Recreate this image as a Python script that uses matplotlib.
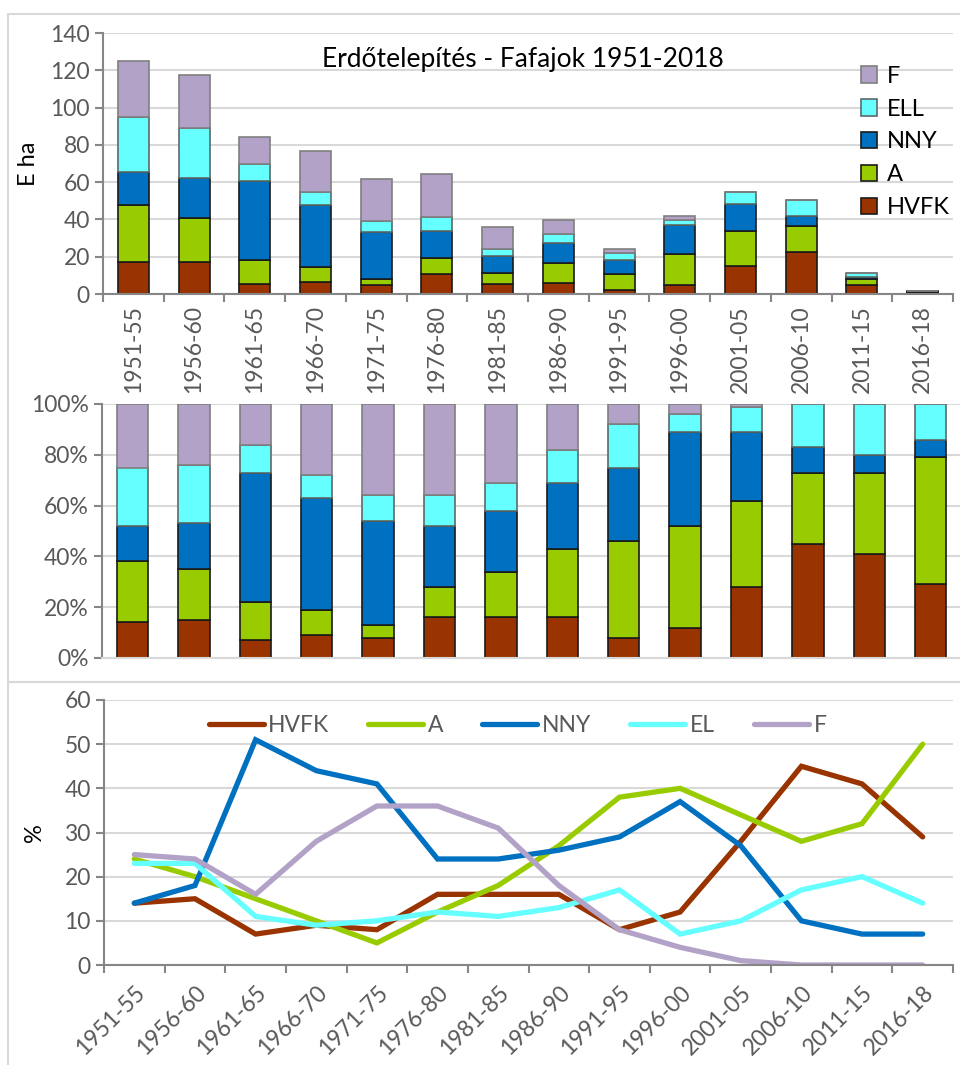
import matplotlib.pyplot as plt
import numpy as np
from matplotlib.patches import Rectangle, Patch
from matplotlib.lines import Line2D

plt.rcParams['font.family'] = ['Lato', 'DejaVu Sans']

periods = ['1951-55', '1956-60', '1961-65', '1966-70', '1971-75', '1976-80', '1981-85',
           '1986-90', '1991-95', '1996-00', '2001-05', '2006-10', '2011-15', '2016-18']

# area, thousand ha (E ha)
hvfk_ha = [17.3, 17.3, 5.5, 6.6, 4.8, 10.6, 5.2, 6.1, 1.9, 4.7, 15.0, 22.4, 4.6, 0.5]
a_ha = [30.6, 23.5, 12.6, 8.1, 3.1, 8.5, 6.2, 10.7, 9.0, 16.8, 18.8, 14.2, 3.6, 0.8]
nny_ha = [17.7, 21.3, 42.5, 33.0, 25.2, 14.5, 9.0, 10.6, 7.2, 15.5, 14.7, 5.1, 0.8, 0.1]
ell_ha = [29.2, 26.9, 9.1, 6.9, 6.2, 7.9, 3.9, 4.6, 3.7, 2.9, 6.2, 8.7, 2.2, 0.2]
f_ha = [30.4, 28.5, 14.3, 22.3, 22.2, 23.0, 11.5, 7.9, 2.3, 1.8, 0.2, 0.0, 0.0, 0.0]

# share, %
hvfk_pct = [14, 15, 7, 9, 8, 16, 16, 16, 8, 12, 28, 45, 41, 29]
a_pct = [24, 20, 15, 10, 5, 12, 18, 27, 38, 40, 34, 28, 32, 50]
nny_pct = [14, 18, 51, 44, 41, 24, 24, 26, 29, 37, 27, 10, 7, 7]
el_pct = [23, 23, 11, 9, 10, 12, 11, 13, 17, 7, 10, 17, 20, 14]
f_pct = [25, 24, 16, 28, 36, 36, 31, 18, 8, 4, 1, 0, 0, 0]

bar_names = ['HVFK', 'A', 'NNY', 'ELL', 'F']
line_names = ['HVFK', 'A', 'NNY', 'EL', 'F']
colors = ['#993300', '#99cc00', '#0070c0', '#66ffff', '#b3a2c7']
edges = ['#1a1a1a', '#1a1a1a', '#1a1a1a', '#5a6a6a', '#7f7f7f']

W, H = 960, 1065
fig = plt.figure(figsize=(9.6, 10.65), dpi=100)

def ax_at(x0, x1, ytop, ybot):
    return fig.add_axes([x0 / W, 1 - ybot / H, (x1 - x0) / W, (ybot - ytop) / H])

tick_col = '#595959'
axis_col = '#868686'
grid_col = '#d9d9d9'
fs = 16.5

def style(ax):
    for s in ['top', 'right']:
        ax.spines[s].set_visible(False)
    ax.spines['left'].set_color(axis_col)
    ax.spines['left'].set_linewidth(1.5)
    ax.spines['bottom'].set_color(axis_col)
    ax.spines['bottom'].set_linewidth(1.5)
    ax.yaxis.grid(True, color=grid_col, lw=1.5)
    ax.set_axisbelow(True)
    ax.tick_params(axis='y', colors=axis_col, labelcolor=tick_col, labelsize=fs,
                   length=6, width=1.5)
    ax.tick_params(axis='x', colors=axis_col, labelcolor=tick_col, labelsize=fs,
                   length=6, width=1.5)

x = np.arange(len(periods))

# --- top: stacked area in E ha ---
ax1 = ax_at(103, 953, 33, 294)
style(ax1)
bottom = np.zeros(len(periods))
handles = []
for vals, name, c, ec in zip([hvfk_ha, a_ha, nny_ha, ell_ha, f_ha], bar_names, colors, edges):
    ax1.bar(x, vals, 0.51, bottom=bottom, color=c, edgecolor=ec, lw=1.2)
    bottom += np.array(vals)
    handles.append(Patch(facecolor=c, edgecolor=ec, lw=1.2, label=name))
ax1.set_xlim(-0.5, len(periods) - 0.5)
ax1.set_ylim(0, 140)
ax1.set_yticks(range(0, 141, 20))
ax1.set_xticks(np.arange(-0.5, len(periods), 1), minor=False)
ax1.set_xticklabels([])
ax1.set_xticks(x, minor=True)
ax1.set_xticklabels(periods, minor=True, rotation=90)
ax1.tick_params(axis='x', which='minor', length=0, labelsize=fs, labelcolor=tick_col, pad=8)
ax1.set_ylabel('E ha', fontsize=17, labelpad=8)
ax1.text(0.494, 0.9, 'Erdőtelepítés - Fafajok 1951-2018', transform=ax1.transAxes,
         fontsize=19, ha='center', va='center')
ax1.legend(handles=handles[::-1], loc='upper left', bbox_to_anchor=(849 / W, 1 - 54 / H),
           bbox_transform=fig.transFigure, frameon=False, fontsize=17, borderpad=0,
           handlelength=0.7, handleheight=0.7, handletextpad=0.4, labelspacing=0.5)

# --- middle: 100% stacked ---
ax2 = ax_at(101.8, 961.4, 404, 658)
style(ax2)
ax2.spines['bottom'].set_color(grid_col)
bottom = np.zeros(len(periods))
for vals, c, ec in zip([hvfk_pct, a_pct, nny_pct, el_pct, f_pct], colors, edges):
    ax2.bar(x, vals, 0.51, bottom=bottom, color=c, edgecolor=ec, lw=1.2)
    bottom += np.array(vals)
ax2.set_xlim(-0.5, len(periods) - 0.5)
ax2.set_ylim(0, 100)
ax2.set_yticks(range(0, 101, 20))
ax2.set_yticklabels([f'{v}%' for v in range(0, 101, 20)])
ax2.set_xticks([])

# --- bottom: lines in % ---
ax3 = ax_at(104, 953, 700, 965)
style(ax3)
lhandles = []
for vals, name, c in zip([hvfk_pct, a_pct, nny_pct, el_pct, f_pct], line_names, colors):
    ax3.plot(x, vals, color=c, lw=3.8, solid_capstyle='round', solid_joinstyle='miter')
    lhandles.append(Line2D([], [], color=c, lw=3.8, solid_capstyle='round', label=name))
ax3.set_xlim(-0.5, len(periods) - 0.5)
ax3.set_ylim(0, 60)
ax3.set_yticks(range(0, 61, 10))
ax3.set_xticks(np.arange(-0.5, len(periods), 1))
ax3.set_xticklabels([])
ax3.set_xticks(x, minor=True)
ax3.set_xticklabels(periods, minor=True, rotation=45, ha='right', rotation_mode='anchor')
ax3.tick_params(axis='x', which='minor', length=0, labelsize=fs, labelcolor=tick_col, pad=12)
ax3.set_ylabel('%', fontsize=17, labelpad=14)
leg = ax3.legend(handles=lhandles, loc='center left', bbox_to_anchor=(188 / W, 1 - 726 / H),
                 bbox_transform=fig.transFigure, frameon=False, fontsize=fs, ncol=5,
                 handlelength=2.4, handletextpad=0.2, columnspacing=1.7)
for t in leg.get_texts():
    t.set_color(tick_col)

# chart frames
fig.add_artist(Rectangle((8 / W, 1 - 682 / H), 1.1, (682 - 14) / H, transform=fig.transFigure,
                         fill=False, edgecolor=grid_col, lw=1.5))
fig.add_artist(Rectangle((8 / W, -0.05), 1.1, 0.05 + 1 - 682 / H, transform=fig.transFigure,
                         fill=False, edgecolor=grid_col, lw=1.5))

fig.savefig('out.png', dpi=100)
